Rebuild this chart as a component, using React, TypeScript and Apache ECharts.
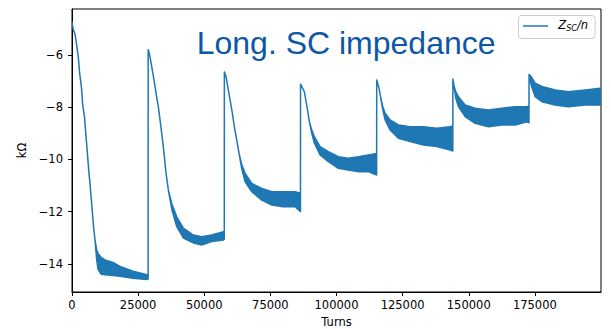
import React, { useEffect, useRef } from "react";
import * as echarts from "echarts";

// Turns (x), upper and lower envelope of Z_SC/n in kΩ
const turns = [
  0, 490, 1130, 1780, 2380, 2840, 3590, 4050, 4730, 5290, 5790, 6320, 6810, 7450, 8060, 8700,
  9340, 9830, 10970, 12480, 15500, 18150, 23070, 28360, 28780,
  28800, 29230, 30140, 31010, 31770, 32640, 33280, 33920, 34790, 35550, 36420,
  37710, 39600, 42090, 45880, 49050, 52830, 57220, 57580,
  57600, 58240, 58880, 59760, 60620, 61380, 62290, 63160,
  64180, 65430, 67960, 71740, 75530, 79310, 84340, 86380,
  86400, 87850, 88500, 89140, 89750,
  90650, 91640, 93790, 96930, 100710, 104500, 108280, 112060, 115180,
  115200, 116100, 116750,
  117500, 118380, 120270, 123410, 127830, 132860, 137930, 142960, 143980,
  144000, 144470,
  145110, 146100, 148630, 152410, 157440, 162510, 167540, 171970, 172780,
  172800,
  173590, 175110, 177640, 182670, 187700, 194020, 199690, 200000,
];
const upper = [
  -4.74, -5.04, -5.2, -5.62, -6.08, -6.65, -7.26, -7.92, -8.38, -9.1, -9.72, -10.41, -10.94, -11.71, -12.48, -13.09,
  -13.47, -13.6, -13.75, -13.85, -13.95, -14.1, -14.28, -14.42, -14.45,
  -5.8, -5.93, -6.45, -6.96, -7.47, -7.98, -8.49, -9.0, -9.77, -10.53, -11.17,
  -11.7, -12.2, -12.63, -12.9, -12.96, -12.9, -12.77, -12.75,
  -6.65, -6.83, -7.21, -7.72, -8.23, -8.75, -9.26, -9.77,
  -10.2, -10.53, -10.92, -11.11, -11.24, -11.24, -11.24, -11.3,
  -7.12, -7.41, -7.79, -8.17, -8.56,
  -8.88, -9.13, -9.51, -9.7, -9.9, -9.96, -9.9, -9.83, -9.77,
  -6.96, -7.28, -7.66,
  -7.98, -8.23, -8.49, -8.68, -8.75, -8.75, -8.81, -8.75, -8.72,
  -6.92, -7.21,
  -7.41, -7.6, -7.92, -8.04, -8.11, -8.04, -7.98, -7.98, -7.95,
  -6.75,
  -6.83, -7.08, -7.21, -7.34, -7.41, -7.34, -7.28, -7.28,
];
const lower = [
  -4.74, -5.04, -5.2, -5.62, -6.08, -6.65, -7.26, -7.92, -8.38, -9.1, -9.72, -10.41, -10.94, -11.71, -12.48, -13.09,
  -13.85, -14.2, -14.4, -14.42, -14.45, -14.48, -14.55, -14.6, -14.58,
  -5.8, -5.93, -6.45, -6.96, -7.47, -7.98, -8.49, -9.0, -9.77, -10.53, -11.17,
  -11.9, -12.58, -13.01, -13.2, -13.28, -13.15, -13.09, -13.05,
  -6.65, -6.83, -7.21, -7.72, -8.23, -8.75, -9.26, -9.77,
  -10.36, -10.85, -11.24, -11.56, -11.75, -11.81, -11.81, -12.0,
  -7.12, -7.41, -7.79, -8.17, -8.56,
  -9.0, -9.38, -9.83, -10.09, -10.34, -10.41, -10.47, -10.47, -10.6,
  -6.96, -7.28, -7.66,
  -8.1, -8.49, -8.87, -9.19, -9.32, -9.45, -9.51, -9.64, -9.68,
  -6.92, -7.21,
  -7.66, -7.98, -8.36, -8.62, -8.75, -8.68, -8.68, -8.56, -8.6,
  -6.75,
  -7.15, -7.6, -7.79, -7.92, -7.98, -7.92, -7.92, -7.9,
];
const xTicks = [0, 25000, 50000, 75000, 100000, 125000, 150000, 175000];
const yTicks = [-14, -12, -10, -8, -6];

const BLUE = "#1f77b4";

export default function App() {
  const ref = useRef<HTMLDivElement>(null);
  useEffect(() => {
    if (!ref.current) return;
    const chart = echarts.init(ref.current, null, { renderer: "svg" });
    const rows = turns.map((t, i) => [t, upper[i], lower[i]]);
    const labelFont = { fontFamily: "DejaVu Sans", fontSize: 11.5, color: "#000" };
    chart.setOption({
      animation: false,
      grid: {
        left: 72,
        right: 10,
        top: 9,
        bottom: 37,
        containLabel: false,
        outerBoundsMode: "none",
        show: true,
        borderColor: "#000",
        borderWidth: 1,
        backgroundColor: "transparent",
      },
      xAxis: {
        type: "value",
        min: 0,
        max: 200000,
        name: "Turns",
        nameLocation: "middle",
        nameGap: 24,
        nameTextStyle: { ...labelFont },
        axisLine: { lineStyle: { color: "#000", width: 1 } },
        axisTick: { show: true, inside: false, length: 4, lineStyle: { color: "#000" }, customValues: xTicks },
        axisLabel: { ...labelFont, margin: 7, customValues: xTicks, formatter: (v: number) => String(v) },
        splitLine: { show: false },
      },
      yAxis: {
        type: "value",
        min: -15.08,
        max: -4.24,
        name: "kΩ",
        nameLocation: "middle",
        nameGap: 37,
        nameRotate: 90,
        nameTextStyle: { ...labelFont },
        axisLine: { show: true, lineStyle: { color: "#000", width: 1 } },
        axisTick: { show: true, inside: false, length: 4, lineStyle: { color: "#000" }, customValues: yTicks },
        axisLabel: {
          ...labelFont,
          margin: 9,
          customValues: yTicks,
          formatter: (v: number) => (v < 0 ? "\u2212" + Math.abs(v) : String(v)),
        },
        splitLine: { show: false },
      },
      series: [
        {
          name: "Z_SC/n",
          type: "custom",
          data: rows,
          encode: { x: 0, y: [1, 2] },
          clip: true,
          renderItem: (params: any, api: any) => {
            if (params.dataIndex !== 0) return null;
            const top = rows.map((r) => api.coord([r[0], r[1]]));
            const bottom = rows.map((r) => api.coord([r[0], r[2]])).reverse();
            return {
              type: "polygon",
              shape: { points: top.concat(bottom) },
              style: { fill: BLUE, stroke: BLUE, lineWidth: 1.5, lineJoin: "round" },
            };
          },
        },
      ],
      graphic: [
        {
          type: "text",
          x: 196.7,
          y: 43,
          style: {
            text: "Long. SC impedance",
            font: "32px 'Liberation Sans', Arial, sans-serif",
            fill: "#0d57a6",
            textAlign: "left",
            textVerticalAlign: "middle",
          },
        },
        {
          type: "rect",
          shape: { x: 518.5, y: 15.5, width: 76.5, height: 23, r: 3 },
          style: { fill: "rgba(255,255,255,0.8)", stroke: "#cccccc", lineWidth: 1 },
        },
        {
          type: "line",
          shape: { x1: 523, y1: 26, x2: 548, y2: 26 },
          style: { stroke: BLUE, lineWidth: 1.5 },
        },
        {
          type: "text",
          x: 558.3,
          y: 25.3,
          style: {
            text: "Z",
            font: "italic 11.5px 'DejaVu Sans'",
            fill: "#000",
            textAlign: "left",
            textVerticalAlign: "middle",
          },
        },
        {
          type: "text",
          x: 566.2,
          y: 28.5,
          style: {
            text: "SC",
            font: "italic 8px 'DejaVu Sans'",
            fill: "#000",
            textAlign: "left",
            textVerticalAlign: "middle",
          },
        },
        {
          type: "text",
          x: 577,
          y: 25.3,
          style: {
            text: "/n",
            font: "italic 11.5px 'DejaVu Sans'",
            fill: "#000",
            textAlign: "left",
            textVerticalAlign: "middle",
          },
        },
      ],
    });
    return () => chart.dispose();
  }, []);
  return (
    <div
      ref={ref}
      style={{ position: "fixed", left: 0, top: 0, width: 611, height: 329, background: "#fff" }}
    />
  );
}
